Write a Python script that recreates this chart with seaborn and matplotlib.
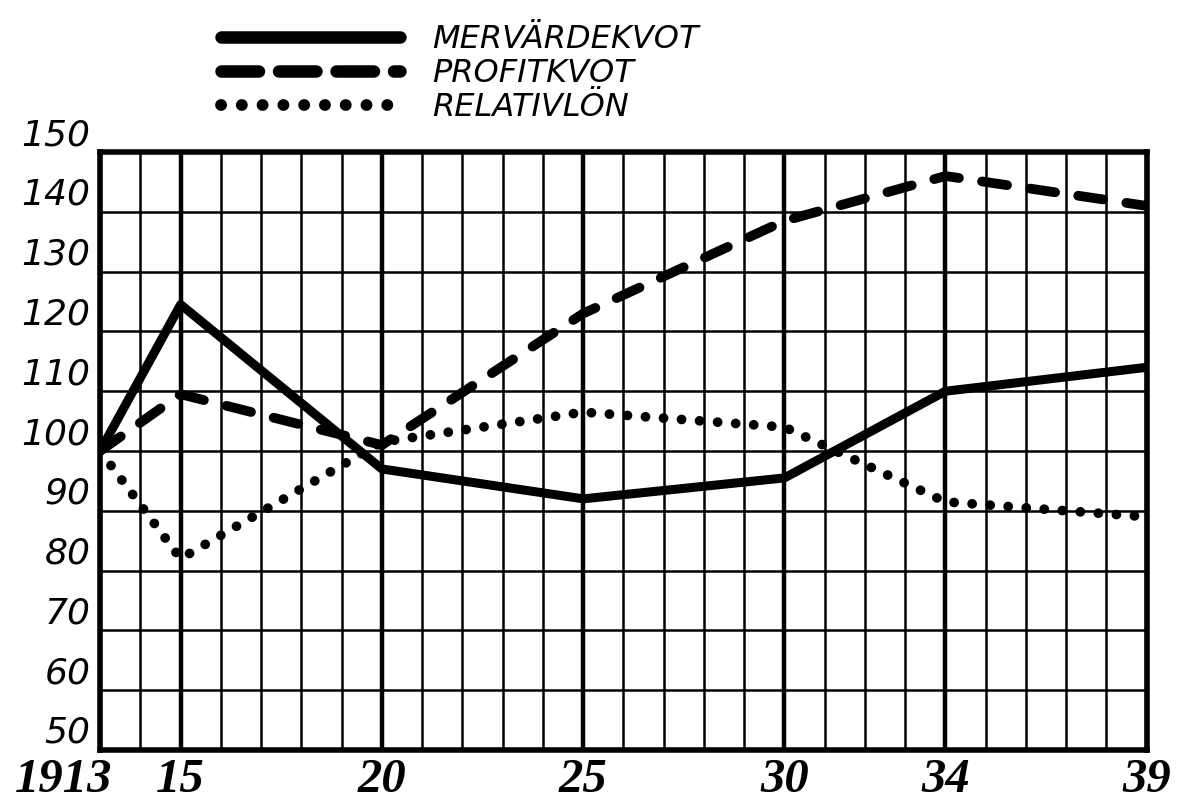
import matplotlib
matplotlib.use("Agg")
import matplotlib.pyplot as plt
import matplotlib.transforms as mtransforms
import seaborn as sns
import pandas as pd

# index, 1913 = 100
years = [1913, 1915, 1920, 1925, 1930, 1934, 1939]
mervardekvot = [100, 124.5, 97, 92, 95.5, 110, 114]
profitkvot = [100, 109.5, 101, 123, 138.5, 146, 141]
relativlon = [100, 82, 101.5, 106.5, 104, 91.5, 89]

x_labels = ["1913", "15", "20", "25", "30", "34", "39"]
y_ticks = [50, 60, 70, 80, 90, 100, 110, 120, 130, 140, 150]

df = pd.DataFrame({"år": years, "MERVÄRDEKVOT": mervardekvot,
                   "PROFITKVOT": profitkvot, "RELATIVLÖN": relativlon})

sns.set_theme(style="white")
plt.rcParams["font.family"] = ["DejaVu Sans"]
plt.rcParams["text.color"] = "black"
plt.rcParams["xtick.color"] = "black"
plt.rcParams["ytick.color"] = "black"

fig = plt.figure(figsize=(11.92, 8.09), dpi=100)
ax = fig.add_axes([0.084, 0.073, 0.878, 0.739])

sns.lineplot(data=df, x="år", y="MERVÄRDEKVOT", ax=ax, color="black",
             lw=6.5, label="MERVÄRDEKVOT", solid_capstyle="round", zorder=5)
sns.lineplot(data=df, x="år", y="PROFITKVOT", ax=ax, color="black",
             lw=7, linestyle=(0, (2.6, 2.4)), dash_capstyle="round",
             label="PROFITKVOT", zorder=5)
sns.lineplot(data=df, x="år", y="RELATIVLÖN", ax=ax, color="black",
             lw=7, linestyle=(0, (0.01, 1.85)), dash_capstyle="round",
             label="RELATIVLÖN", zorder=5)

ax.set_xlim(1913, 1939)
ax.set_ylim(50, 150)
ax.set_xlabel("")
ax.set_ylabel("")

# grid: every year, bold at the labelled years
ax.set_xticks(years)
ax.set_xticklabels(x_labels)
ax.set_xticks(range(1913, 1940), minor=True)
ax.set_yticks(y_ticks)
ax.set_yticklabels([str(v) for v in y_ticks])
ax.grid(which="major", axis="x", color="black", lw=3.2)
ax.grid(which="minor", axis="x", color="black", lw=1.8)
ax.grid(which="major", axis="y", color="black", lw=1.8)
ax.set_axisbelow(True)
ax.tick_params(which="both", length=0)
ax.tick_params(axis="x", pad=6)
ax.tick_params(axis="y", pad=7)

for sp in ax.spines.values():
    sp.set_visible(True)
    sp.set_color("black")
    sp.set_linewidth(4)

for t in ax.get_xticklabels():
    t.set_fontfamily("Liberation Serif")
    t.set_fontsize(35)
    t.set_fontweight("bold")
    t.set_fontstyle("italic")
first = ax.get_xticklabels()[0]
first.set_horizontalalignment("right")
first.set_transform(first.get_transform() +
                    mtransforms.ScaledTranslation(0.12, 0, fig.dpi_scale_trans))

for t in ax.get_yticklabels():
    t.set_fontsize(26)
    t.set_fontstyle("italic")
    t.set_verticalalignment("bottom")

leg = ax.legend(loc="upper left", bbox_to_anchor=(0.172, 0.99),
                bbox_transform=fig.transFigure, frameon=False,
                handlelength=5.6, handletextpad=1.0, labelspacing=0.1,
                borderpad=0, fontsize=23)
for t in leg.get_texts():
    t.set_fontstyle("italic")
    t.set_color("black")
hl = leg.get_lines()
hl[0].set_linewidth(9)
hl[1].set_linewidth(9)
hl[1].set_linestyle((0, (3.0, 1.6)))
hl[2].set_linewidth(8.5)
hl[2].set_linestyle((0, (0.01, 1.75)))

fig.savefig("out.png", dpi=100)
